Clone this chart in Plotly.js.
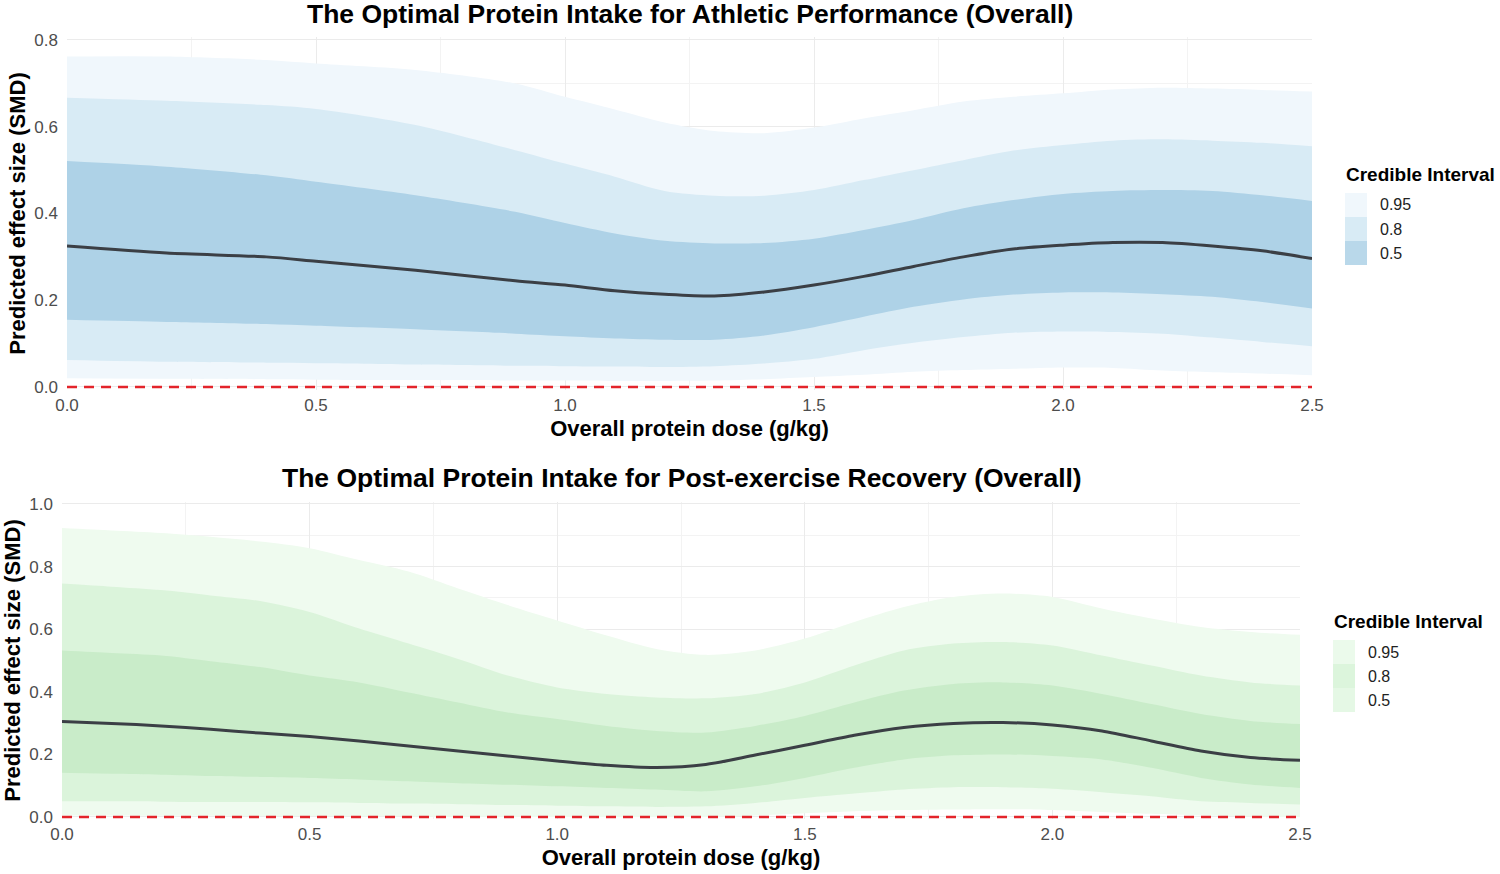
<!DOCTYPE html>
<html>
<head>
<meta charset="utf-8">
<script src="https://cdn.plot.ly/plotly-3.0.1.min.js"></script>
<style>html,body{margin:0;padding:0;background:#fff}#chart{width:1500px;height:874px}</style>
</head>
<body>
<div id="chart"></div>
<script>
// ---------- Data: Athletic Performance ----------
const perfDose = [0,0.2,0.4,0.5,0.7,0.9,1.0,1.1,1.2,1.3,1.4,1.5,1.6,1.7,1.8,1.9,2.0,2.1,2.2,2.3,2.4,2.5];
const perfMedian = [0.325,0.309,0.300,0.290,0.269,0.245,0.235,0.222,0.214,0.210,0.219,0.235,0.255,0.278,0.300,0.318,0.327,0.333,0.333,0.325,0.314,0.296];
const perfUpper50 = [0.521,0.508,0.488,0.473,0.442,0.404,0.378,0.354,0.337,0.331,0.332,0.342,0.362,0.385,0.412,0.431,0.445,0.452,0.454,0.452,0.442,0.429];
const perfLower50 = [0.155,0.150,0.145,0.141,0.133,0.123,0.117,0.112,0.109,0.109,0.119,0.138,0.162,0.185,0.202,0.213,0.218,0.218,0.214,0.208,0.196,0.181];
const perfUpper80 = [0.667,0.660,0.650,0.641,0.604,0.546,0.515,0.485,0.452,0.441,0.441,0.454,0.477,0.500,0.523,0.545,0.558,0.568,0.571,0.568,0.563,0.555];
const perfLower80 = [0.062,0.058,0.056,0.055,0.052,0.049,0.048,0.047,0.046,0.048,0.054,0.065,0.085,0.102,0.115,0.125,0.128,0.127,0.123,0.114,0.104,0.094];
const perfUpper95 = [0.762,0.762,0.754,0.746,0.731,0.700,0.669,0.640,0.610,0.590,0.585,0.598,0.619,0.638,0.658,0.669,0.677,0.686,0.690,0.688,0.685,0.681];
const perfLower95 = [0.020,0.019,0.018,0.017,0.016,0.015,0.015,0.014,0.014,0.015,0.018,0.023,0.028,0.035,0.039,0.042,0.045,0.044,0.038,0.034,0.031,0.027];

// ---------- Data: Post-exercise Recovery ----------
const recDose = [0,0.1,0.2,0.3,0.4,0.5,0.6,0.7,0.8,0.9,1.0,1.1,1.2,1.3,1.4,1.5,1.6,1.7,1.8,1.9,2.0,2.1,2.2,2.3,2.4,2.5];
const recMedian = [0.305,0.299,0.291,0.280,0.268,0.257,0.243,0.227,0.211,0.195,0.179,0.165,0.158,0.168,0.198,0.229,0.261,0.286,0.299,0.302,0.294,0.275,0.243,0.211,0.190,0.181];
const recUpper95 = [0.923,0.915,0.907,0.895,0.880,0.859,0.821,0.784,0.730,0.677,0.628,0.580,0.537,0.518,0.532,0.570,0.623,0.671,0.703,0.714,0.703,0.666,0.634,0.607,0.591,0.582];
const recUpper80 = [0.746,0.736,0.725,0.708,0.690,0.655,0.602,0.554,0.505,0.452,0.414,0.393,0.382,0.379,0.393,0.430,0.484,0.532,0.554,0.559,0.548,0.516,0.484,0.452,0.430,0.420];
const recUpper50 = [0.532,0.524,0.516,0.498,0.479,0.452,0.430,0.398,0.366,0.334,0.313,0.291,0.275,0.270,0.291,0.323,0.366,0.404,0.425,0.430,0.420,0.393,0.361,0.329,0.307,0.297];
const recLower50 = [0.141,0.138,0.135,0.131,0.128,0.125,0.120,0.114,0.108,0.103,0.098,0.093,0.088,0.082,0.098,0.125,0.157,0.184,0.197,0.200,0.195,0.184,0.157,0.125,0.104,0.093];
const recLower80 = [0.050,0.050,0.049,0.048,0.048,0.047,0.045,0.043,0.041,0.038,0.036,0.034,0.032,0.034,0.045,0.061,0.075,0.088,0.095,0.095,0.090,0.079,0.066,0.050,0.045,0.040];
const recLower95 = [0.005,0.005,0.004,0.004,0.003,0.003,0.002,0.002,0.001,0.001,0.000,0.000,0.000,0.000,0.005,0.012,0.018,0.022,0.024,0.025,0.022,0.016,0.010,0.005,0.002,0.000];

const intervalLabels = ['0.95','0.8','0.5'];
const xTicks = [0,0.5,1.0,1.5,2.0,2.5];
const xTickText = ['0.0','0.5','1.0','1.5','2.0','2.5'];
const titles = ['The Optimal Protein Intake for Athletic Performance (Overall)','The Optimal Protein Intake for Post-exercise Recovery (Overall)'];

// ---------- Styles ----------
const FONT = 'Liberation Sans, Arial, Helvetica, sans-serif';
const blue = {b95:'#f0f7fc', b80:'#d8ebf5', b50:'#aed2e7', leg:['#f0f7fc','#d8ebf5','#b9d8ea']};
const green = {b95:'#effbef', b80:'#dbf4db', b50:'#c9ecc9', leg:['#ebfaeb','#dcf5dc','#e5f8e5']};

function band(x, lo, hi, color, xa, ya){
  return [
    {x:x, y:lo, xaxis:xa, yaxis:ya, type:'scatter', mode:'lines', line:{width:0, shape:'spline', smoothing:0.8}, hoverinfo:'skip', showlegend:false},
    {x:x, y:hi, xaxis:xa, yaxis:ya, type:'scatter', mode:'lines', fill:'tonexty', fillcolor:color, line:{width:0, shape:'spline', smoothing:0.8}, hoverinfo:'skip', showlegend:false}
  ];
}
function panel(x, med, l95,u95,l80,u80,l50,u50, col, xa, ya){
  return [
    ...band(x,l95,u95,col.b95,xa,ya),
    ...band(x,l80,u80,col.b80,xa,ya),
    ...band(x,l50,u50,col.b50,xa,ya),
    {x:[x[0], x[x.length-1]], y:[0,0], xaxis:xa, yaxis:ya, type:'scatter', mode:'lines', line:{color:'#e3242b', width:2.7, dash:'10px,7px'}, hoverinfo:'skip', showlegend:false},
    {x:x, y:med, xaxis:xa, yaxis:ya, type:'scatter', mode:'lines', line:{color:'#3b3f45', width:3, shape:'spline', smoothing:0.8}, showlegend:false}
  ];
}

const data = [
  ...panel(perfDose, perfMedian, perfLower95, perfUpper95, perfLower80, perfUpper80, perfLower50, perfUpper50, blue, 'x', 'y'),
  ...panel(recDose, recMedian, recLower95, recUpper95, recLower80, recUpper80, recLower50, recUpper50, green, 'x2', 'y2')
];

const W = 1500, H = 874;
const px = v => v / W, py = v => 1 - v / H;

const gridC = '#ebebeb';
function xAxis(domain, anchor){
  return {domain:domain, anchor:anchor, range:[0,2.5], tickvals:xTicks, ticktext:xTickText, showgrid:true, gridcolor:gridC, gridwidth:1,
    minor:{tickvals:[0.25,0.75,1.25,1.75,2.25], showgrid:true, gridcolor:'#f3f3f3', gridwidth:1},
    zeroline:false, showline:false, ticks:'', ticklabelstandoff:3, tickfont:{family:FONT, size:17, color:'#4d4d4d'},
    title:{text:'Overall protein dose (g/kg)', font:{family:FONT, size:22, color:'#000', weight:'bold'}, standoff:6}, fixedrange:true};
}
function yAxis(domain, anchor, range, tv, tt, minorv){
  return {domain:domain, anchor:anchor, range:range, tickvals:tv, ticktext:tt, showgrid:true, gridcolor:gridC, gridwidth:1,
    minor:{tickvals:minorv, showgrid:true, gridcolor:'#f3f3f3', gridwidth:1},
    zeroline:false, showline:false, ticks:'', ticklabelstandoff:8, tickfont:{family:FONT, size:17, color:'#4d4d4d'},
    title:{text:'Predicted effect size (SMD)', font:{family:FONT, size:22, color:'#000', weight:'bold'}, standoff:2}, fixedrange:true};
}

// top panel: 0 at y=387, 0.8 at y=40
const topPer = (387-40)/0.8;
const topRange = [-0.006, 0.806];
const topDom = [py(387 + 0.006*topPer), py(40 - 0.006*topPer)];
// bottom panel: 0 at y=817, 1.0 at y=504
const botPer = (817-504)/1.0;
const botRange = [-0.007, 1.007];
const botDom = [py(817 + 0.007*botPer), py(504 - 0.007*botPer)];

const annotations = [
  {text:'<b>'+titles[0]+'</b>', xref:'paper', yref:'paper', x:px(690), y:py(14), xanchor:'center', yanchor:'middle', showarrow:false, font:{family:FONT, size:26.5, color:'#000'}},
  {text:'<b>'+titles[1]+'</b>', xref:'paper', yref:'paper', x:px(682), y:py(478), xanchor:'center', yanchor:'middle', showarrow:false, font:{family:FONT, size:26.5, color:'#000'}}
];
const shapes = [];
function legend(x0, yTitle, yBox0, cols){
  annotations.push({text:'<b>Credible Interval</b>', xref:'paper', yref:'paper', x:px(x0), y:py(yTitle), xanchor:'left', yanchor:'middle', showarrow:false, font:{family:FONT, size:19, color:'#000'}});
  intervalLabels.forEach((lab,i)=>{
    const y0 = yBox0 + i*24;
    shapes.push({type:'rect', xref:'paper', yref:'paper', x0:px(x0+1), x1:px(x0+23), y0:py(y0), y1:py(y0+24), fillcolor:cols[i], line:{width:0}, layer:'above'});
    annotations.push({text:lab, xref:'paper', yref:'paper', x:px(x0+34), y:py(y0+12), xanchor:'left', yanchor:'middle', showarrow:false, font:{family:FONT, size:16, color:'#222'}});
  });
}
legend(1344, 174, 193, blue.leg);
legend(1332, 621, 640, green.leg);

const layout = {
  width:W, height:H, margin:{l:0,r:0,t:0,b:0}, paper_bgcolor:'#fff', plot_bgcolor:'#fff', showlegend:false,
  font:{family:FONT},
  xaxis: xAxis([px(67), px(1312)], 'y'),
  yaxis: yAxis(topDom, 'x', topRange, [0,0.2,0.4,0.6,0.8], ['0.0','0.2','0.4','0.6','0.8'], [0.1,0.3,0.5,0.7]),
  xaxis2: xAxis([px(62), px(1300)], 'y2'),
  yaxis2: yAxis(botDom, 'x2', botRange, [0,0.2,0.4,0.6,0.8,1.0], ['0.0','0.2','0.4','0.6','0.8','1.0'], [0.1,0.3,0.5,0.7,0.9]),
  annotations:annotations, shapes:shapes
};
Plotly.newPlot('chart', data, layout, {displayModeBar:false, staticPlot:true});
</script>
</body>
</html>
